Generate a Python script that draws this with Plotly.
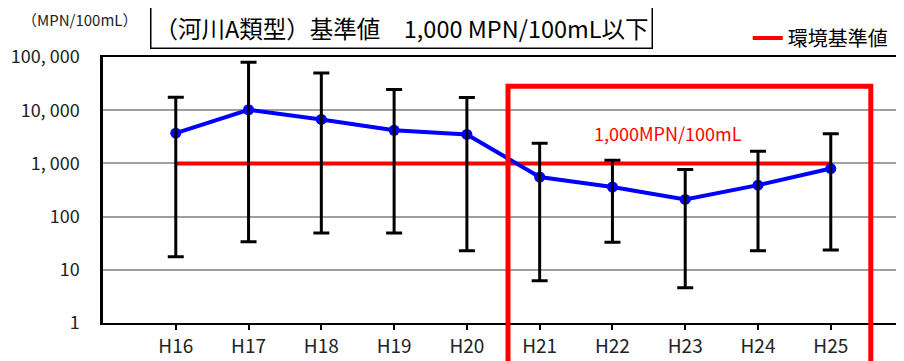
import plotly.graph_objects as go

categories = ["H16", "H17", "H18", "H19", "H20", "H21", "H22", "H23", "H24", "H25"]
mean_values = [3700, 10200, 6700, 4200, 3500, 555, 360, 210, 390, 800]
max_values = [17600, 80000, 50000, 24500, 17400, 2400, 1140, 770, 1700, 3600]
min_values = [17.5, 33.5, 49, 49, 22.7, 6.2, 33, 4.6, 22.7, 23.5]
standard_value = 1000
standard_values = [standard_value] * len(categories)
y_tick_vals = [1, 10, 100, 1000, 10000, 100000]
y_tick_text = ["1", "10", "100", "1, 000", "10, 000", "100, 000"]

err_plus = [mx - m for mx, m in zip(max_values, mean_values)]
err_minus = [m - mn for m, mn in zip(mean_values, min_values)]

NARROW = "Liberation Sans Narrow, Noto Sans CJK JP, sans-serif"
JP_P = "Noto Sans CJK JP, sans-serif"

# page body has an 8px default margin; figure is sized so the plot area lands at
# x 103..897, y 57..323 of the 904x361 window
fig = go.Figure()

fig.add_trace(go.Scatter(
    x=categories, y=standard_values, mode="lines",
    line=dict(color="#ff0000", width=4),
    name="環境基準値", showlegend=True, hoverinfo="skip",
))

fig.add_trace(go.Scatter(
    x=categories, y=mean_values, mode="lines+markers",
    line=dict(color="#0000ff", width=4),
    marker=dict(color="#0000ff", size=11),
    showlegend=False,
))

fig.add_trace(go.Scatter(
    x=categories, y=mean_values, mode="markers",
    marker=dict(size=1, color="rgba(0,0,0,0)"),
    error_y=dict(type="data", symmetric=False, array=err_plus, arrayminus=err_minus,
                 color="#000000", thickness=3, width=8),
    showlegend=False, hoverinfo="skip",
))

fig.update_layout(
    width=896, height=353,
    margin=dict(l=95, r=7, t=49, b=38, autoexpand=False),
    paper_bgcolor="white", plot_bgcolor="white",
    font=dict(family=JP_P, color="#000000"),
    xaxis=dict(
        type="category", range=[-1, 9.91],
        showline=True, linecolor="#000000", linewidth=2, mirror=True,
        ticks="outside", ticklen=5, tickcolor="#000000", tickwidth=1.5,
        showgrid=False, zeroline=False,
        tickfont=dict(family=NARROW, size=19, color="#222222"),
    ),
    yaxis=dict(
        type="log", range=[0, 5],
        tickmode="array", tickvals=y_tick_vals, ticktext=y_tick_text,
        showline=True, linecolor="#000000", linewidth=2.5, mirror=True,
        showgrid=True, gridcolor="#a0a0a0", gridwidth=1.5,
        ticks="", ticklabelstandoff=17,
        tickfont=dict(family=NARROW, size=18, color="#222222"),
        zeroline=False,
    ),
    legend=dict(
        x=0.812, y=(323 - 38) / 266, xanchor="left", yanchor="middle",
        font=dict(family=JP_P, size=20, color="#000000"),
        bgcolor="rgba(0,0,0,0)", itemwidth=30,
        tracegroupgap=0,
    ),
    shapes=[dict(
        type="rect", xref="x", yref="paper",
        x0=4.565, x1=9.55, y0=-0.2, y1=0.89,
        line=dict(color="#ff0000", width=5), layer="above",
    )],
    annotations=[
        dict(text="（河川A類型）基準値　1,000 MPN/100mL以下",
             xref="paper", yref="paper", x=(401.5 - 103) / 794, y=(323 - 28) / 266,
             xanchor="center", yanchor="middle", showarrow=False,
             font=dict(family=JP_P, size=23.5, color="#000000"),
             bordercolor="#000000", borderwidth=1.5, borderpad=3, bgcolor="white"),
        dict(text="（MPN/100mL）", xref="paper", yref="paper",
             x=(79 - 103) / 794, y=(323 - 20) / 266,
             xanchor="center", yanchor="middle", showarrow=False,
             font=dict(family=NARROW, size=15, color="#222222")),
        dict(text="1,000MPN/100mL", xref="paper", yref="paper",
             x=(668 - 103) / 794, y=(323 - 133) / 266,
             xanchor="center", yanchor="middle", showarrow=False,
             font=dict(family=NARROW, size=18, color="#ff0000")),
    ],
)

fig.write_html("out.html")
